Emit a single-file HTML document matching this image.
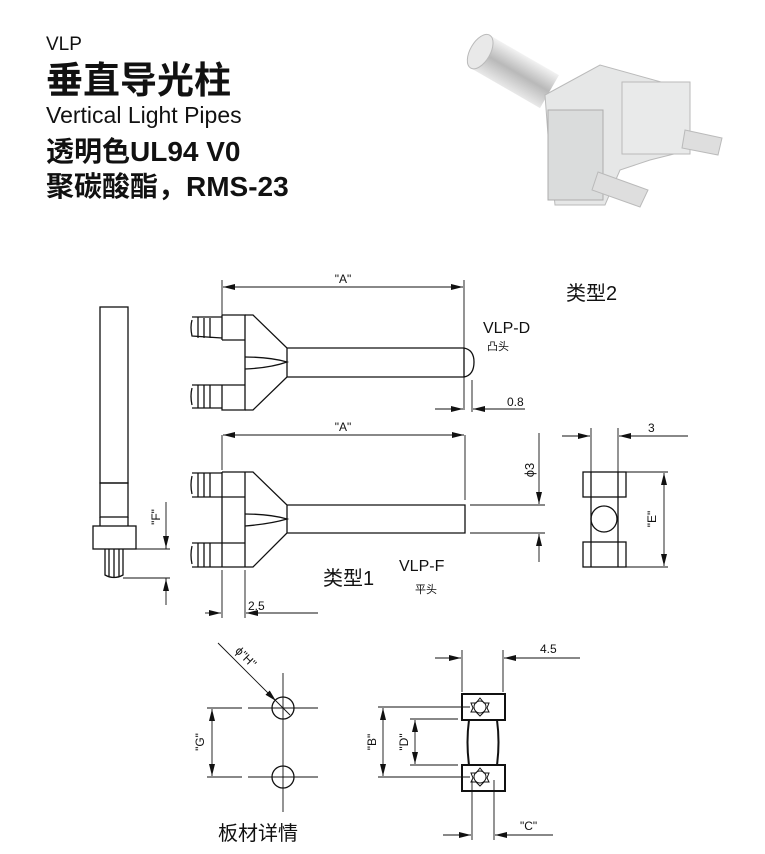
<!DOCTYPE html>
<html><head><meta charset="utf-8"><style>
body{margin:0;background:#fff;width:765px;height:854px;overflow:hidden}
svg{display:block}
text{font-family:"Liberation Sans","Noto Sans CJK SC",sans-serif;fill:#111}
</style></head><body>
<svg width="765" height="854" viewBox="0 0 765 854">
<defs>
<marker id="a" markerWidth="12" markerHeight="6" refX="12" refY="3" orient="auto" markerUnits="userSpaceOnUse"><path d="M0,0L12,3L0,6z" fill="#111"/></marker>
<linearGradient id="g" x1="0" y1="0" x2="0" y2="1"><stop offset="0" stop-color="#f0f0f0"/><stop offset=".5" stop-color="#a8a8a8"/><stop offset="1" stop-color="#e4e4e4"/></linearGradient>
</defs>
<!-- header -->
<text x="46" y="50" font-size="19">VLP</text>
<text x="46" y="93" font-size="37" font-weight="bold">垂直导光柱</text>
<text x="46" y="123" font-size="23">Vertical Light Pipes</text>
<text x="46" y="161" font-size="28" font-weight="bold">透明色UL94 V0</text>
<text x="46" y="196" font-size="28" font-weight="bold">聚碳酸酯，RMS-23</text>
<!-- photo -->
<g opacity=".8">
<g transform="rotate(30 510 70)">
<rect x="475" y="50" width="80" height="38" fill="url(#g)"/>
<ellipse cx="475" cy="69" rx="10" ry="19" fill="#e4e4e4" stroke="#aaa"/>
</g>
<path d="M545,95 L600,65 L690,90 L690,150 L650,160 L620,170 L605,205 L555,205 L548,135 Z" fill="#e0e2e2" stroke="#aaa"/>
<rect x="548" y="110" width="55" height="90" fill="#d2d4d4" stroke="#999"/>
<rect x="622" y="82" width="68" height="72" fill="#e4e6e6" stroke="#aaa"/>
<path d="M598,172 L648,190 L640,207 L592,190 Z" fill="#d6d6d6" stroke="#aaa"/>
<path d="M685,130 L722,138 L718,155 L682,148 Z" fill="#d6d6d6" stroke="#aaa"/>
</g>
<g stroke="#111" fill="none" stroke-width="1.3">
<!-- side view -->
<rect x="100" y="307" width="28" height="176"/>
<rect x="100" y="483" width="28" height="34"/>
<rect x="93" y="526" width="43" height="23"/>
<path d="M105,549 L105,575 Q114,580 123,575 L123,549 M109,549V576 M114,549V577 M119,549V576"/>
<path d="M100,517 L100,526 M128,517 L128,526"/>
</g>
<g stroke="#111" fill="none" stroke-width=".9">
<path d="M123,549H170 M123,578H170 M166,502V548" marker-end="url(#a)"/>
<path d="M166,605V579" marker-end="url(#a)"/>
<path d="M166,540V549 M166,578V590"/>
</g>
<text transform="translate(160,517) rotate(-90)" font-size="12" text-anchor="middle">"F"</text>
<!-- type 2 body -->
<g stroke="#111" fill="none" stroke-width="1.3">
<path d="M222,315 L222,340 M192,320 Q190,327 192,336 L222,338 M192,317 L222,317 M198,317V338 M204,318V338 M210,318V338 M222,315 L245,315 L245,410 L222,410 L222,385 M222,340 L245,340 M222,385 L245,385"/>
<path d="M192,385 L222,385 M192,408 L222,408 M192,388 Q190,396 192,405 M198,385V408 M204,385V408 M210,385V408"/>
<path d="M245,315 L253,315 L287,348 L287,377 L253,410 L245,410 M287,348 L464,348 L464,377 L287,377 M464,348 Q474,350 474,362 Q474,375 464,377"/>
<path d="M245,357 Q270,357 287,362 Q270,368 245,369"/>
</g>
<!-- type 1 body -->
<g stroke="#111" fill="none" stroke-width="1.3">
<path d="M192,473 L222,473 M192,497 L222,497 M192,476 Q190,485 192,494 M198,473V497 M204,473V497 M210,473V497 M222,472 L222,567 M222,497 L245,497 M222,543 L245,543"/>
<path d="M192,543 L222,543 M192,567 L222,567 M192,546 Q190,555 192,564 M198,543V567 M204,543V567 M210,543V567"/>
<path d="M222,472 L253,472 L287,505 L287,533 L253,567 L222,567 M245,472 L245,567 M287,505 L465,505 L465,533 L287,533"/>
<path d="M245,514 Q270,514 287,519 Q270,524 245,526"/>
</g>
<!-- dims -->
<g stroke="#111" fill="none" stroke-width=".9">
<path d="M222,280V330 M464,280V410 M222,435V470 M465,435V500 M472,380V412 M470,505H545 M470,533H545 M222,570V618 M245,570V618"/>
<path d="M343,287H223" marker-end="url(#a)"/><path d="M343,287H463" marker-end="url(#a)"/>
<path d="M343,435H223" marker-end="url(#a)"/><path d="M343,435H464" marker-end="url(#a)"/>
<path d="M435,409H463" marker-end="url(#a)"/><path d="M525,409H473" marker-end="url(#a)"/>
<path d="M539,433V504" marker-end="url(#a)"/><path d="M539,562V534" marker-end="url(#a)"/>
<path d="M205,613H221" marker-end="url(#a)"/><path d="M318,613H246" marker-end="url(#a)"/>
</g>
<text x="343" y="283" font-size="12" text-anchor="middle">"A"</text>
<text x="343" y="431" font-size="12" text-anchor="middle">"A"</text>
<text x="507" y="406" font-size="12">0.8</text>
<text transform="translate(534,470) rotate(-90)" font-size="13" text-anchor="middle">ϕ3</text>
<text x="248" y="610" font-size="12">2.5</text>
<text x="566" y="300" font-size="20">类型2</text>
<text x="483" y="333" font-size="16">VLP-D</text>
<text x="487" y="350" font-size="11">凸头</text>
<text x="323" y="585" font-size="20">类型1</text>
<text x="399" y="571" font-size="16">VLP-F</text>
<text x="415" y="593" font-size="11">平头</text>
<!-- end view -->
<g stroke="#111" fill="none" stroke-width="1.3">
<rect x="583" y="472" width="43" height="25"/>
<rect x="583" y="542" width="43" height="25"/>
<path d="M591,472V567 M618,472V567"/>
<circle cx="604" cy="519" r="13"/>
</g>
<g stroke="#111" fill="none" stroke-width=".9">
<path d="M591,428V472 M618,428V472 M626,472H668 M626,567H668"/>
<path d="M562,436H590" marker-end="url(#a)"/><path d="M688,436H619" marker-end="url(#a)"/>
<path d="M664,519V473" marker-end="url(#a)"/><path d="M664,519V566" marker-end="url(#a)"/>
</g>
<text x="648" y="432" font-size="12">3</text>
<text transform="translate(656,519) rotate(-90)" font-size="12" text-anchor="middle">"E"</text>
<!-- board detail -->
<g stroke="#111" fill="none" stroke-width="1.3">
<circle cx="283" cy="708" r="11"/><circle cx="283" cy="777" r="11"/>
</g>
<g stroke="#111" fill="none" stroke-width=".9">
<path d="M283,673V812 M207,708H242 M248,708H318 M207,777H242 M248,777H318"/>
<path d="M212,742V709" marker-end="url(#a)"/><path d="M212,742V776" marker-end="url(#a)"/>
<path d="M218,643L276,701" marker-end="url(#a)"/><path d="M276,701L290,715"/>
</g>
<text transform="translate(204,742) rotate(-90)" font-size="12" text-anchor="middle">"G"</text>
<text transform="translate(243,660) rotate(45)" font-size="12" text-anchor="middle">ϕ"H"</text>
<text x="218" y="840" font-size="20">板材详情</text>
<!-- bottom view -->
<g stroke="#111" fill="none" stroke-width="2">
<rect x="462" y="694" width="43" height="26"/>
<rect x="462" y="765" width="43" height="26"/>
<path d="M469,720Q466,742 469,765 M497,720Q500,742 497,765"/>
</g>
<g stroke="#111" fill="none" stroke-width="1">
<circle cx="480" cy="707" r="6"/><circle cx="480" cy="777" r="6"/>
<path d="M480,698 L484,703 L489,703 L487,708 L489,712 L484,712 L480,716 L476,712 L471,712 L473,708 L471,703 L476,703 Z"/>
<path d="M480,768 L484,773 L489,773 L487,778 L489,782 L484,782 L480,786 L476,782 L471,782 L473,778 L471,773 L476,773 Z"/>
</g>
<g stroke="#111" fill="none" stroke-width=".9">
<path d="M462,650V692 M503,650V692 M378,707H470 M378,777H470 M410,719H458 M410,765H458 M472,780V840 M494,780V840"/>
<path d="M435,658H461" marker-end="url(#a)"/><path d="M580,658H504" marker-end="url(#a)"/>
<path d="M383,742V708" marker-end="url(#a)"/><path d="M383,742V776" marker-end="url(#a)"/>
<path d="M415,742V720" marker-end="url(#a)"/><path d="M415,742V764" marker-end="url(#a)"/>
<path d="M443,835H471" marker-end="url(#a)"/><path d="M553,835H495" marker-end="url(#a)"/>
</g>
<text x="540" y="653" font-size="12">4.5</text>
<text transform="translate(376,742) rotate(-90)" font-size="12" text-anchor="middle">"B"</text>
<text transform="translate(408,742) rotate(-90)" font-size="12" text-anchor="middle">"D"</text>
<text x="520" y="830" font-size="12">"C"</text>
</svg>
</body></html>
